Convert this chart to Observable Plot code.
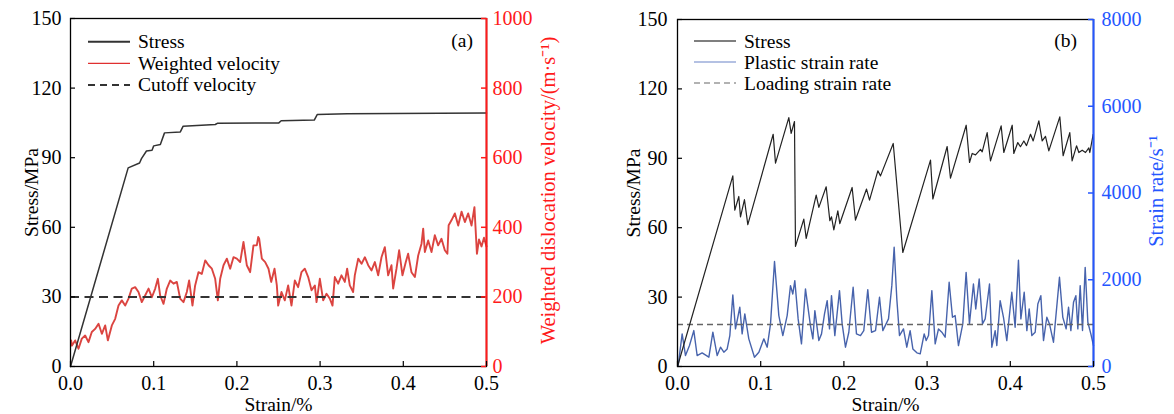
<!DOCTYPE html>
<html><head><meta charset="utf-8">
<script src="https://cdn.jsdelivr.net/npm/d3@7"></script>
<script src="https://cdn.jsdelivr.net/npm/@observablehq/plot@0.6"></script>
<style>
body{margin:0;background:#fff;}
#wrap{position:relative;width:1174px;height:414px;overflow:hidden;font-family:"Liberation Serif",serif;}
#wrap svg{position:absolute;top:0;}
</style></head><body><div id="wrap"></div>
<script>
// ---------- tick labels ----------
const strainTicks = [0, 0.1, 0.2, 0.3, 0.4, 0.5];
const stressTicks = [0, 30, 60, 90, 120, 150];
const velocityTicks = [0, 200, 400, 600, 800, 1000];
const rateTicks = [0, 2000, 4000, 6000, 8000];

// ---------- panel (a) ----------
const stressA_strain = [0, 0.0693, 0.083, 0.0853, 0.0913, 0.098, 0.100, 0.108, 0.113, 0.132, 0.1354, 0.174, 0.177, 0.2504, 0.2532, 0.293, 0.2965, 0.3326, 0.5];
const stressA_value  = [0, 85.6, 87.7, 89.6, 92.9, 93.2, 95.1, 95.7, 100.7, 101.1, 103.6, 104.3, 104.9, 105.0, 105.9, 106.2, 108.6, 108.9, 109.3];

const velA_strain = [0.0008,0.0016,0.0056,0.0096,0.0136,0.0176,0.0216,0.0256,0.0296,0.0337,0.0377,0.0417,0.0449,0.0497,0.0537,0.0577,0.0617,0.0657,0.0697,0.0737,0.0777,0.0817,0.0857,0.0897,0.0938,0.0978,0.1018,0.105,0.1078,0.1118,0.1158,0.1198,0.1238,0.1278,0.1318,0.1358,0.1398,0.1426,0.1466,0.1498,0.1538,0.1578,0.1619,0.1659,0.1699,0.1739,0.1771,0.1799,0.1839,0.1879,0.1919,0.1959,0.1999,0.2039,0.2079,0.2119,0.2159,0.2199,0.2239,0.2256,0.2268,0.2300,0.2340,0.2380,0.2412,0.2452,0.2480,0.2496,0.2536,0.2576,0.2616,0.2656,0.2696,0.2736,0.2776,0.2816,0.2857,0.2897,0.2937,0.2957,0.2997,0.3037,0.3077,0.3117,0.3149,0.3177,0.3217,0.3257,0.3297,0.3325,0.3357,0.3397,0.3417,0.3458,0.3498,0.3538,0.3578,0.3618,0.3658,0.3698,0.3738,0.3778,0.3818,0.3858,0.3878,0.3918,0.3950,0.3990,0.4030,0.4058,0.4098,0.4139,0.4179,0.4219,0.4239,0.4259,0.4299,0.4339,0.4379,0.4419,0.4459,0.4499,0.4530,0.4545,0.4579,0.4620,0.4660,0.4700,0.4740,0.4780,0.4820,0.4855,0.4885,0.4910,0.4940,0.4970,0.5];
const velA_value = [75,60,75,51,80,89,70,99,108,123,94,118,75,118,137,175,190,175,195,224,228,214,185,204,224,199,224,252,204,180,224,247,238,243,195,185,214,247,175,233,271,266,305,291,281,252,190,252,291,310,281,314,310,300,358,291,271,348,348,372,367,310,300,281,243,281,233,175,214,190,233,175,247,228,271,281,257,219,233,185,252,190,209,195,175,257,238,262,243,281,233,214,262,310,295,314,291,276,300,262,314,343,262,291,224,281,334,262,300,324,271,257,319,353,396,329,362,329,377,348,367,334,324,406,420,440,405,445,415,440,405,458,324,365,345,370,345];
const cutoffVelocity = 200;

// ---------- panel (b) ----------
const stressB_strain = [0,0.0665,0.0689,0.0737,0.0757,0.0805,0.0845,0.115,0.1178,0.1338,0.1366,0.1406,0.1418,0.1518,0.1547,0.1667,0.1699,0.1787,0.1831,0.1851,0.1879,0.1927,0.1951,0.2099,0.2139,0.2272,0.2308,0.2408,0.244,0.2593,0.2708,0.3041,0.3069,0.3241,0.3281,0.347,0.351,0.3542,0.3582,0.3642,0.3662,0.3722,0.3762,0.389,0.3922,0.4023,0.4042,0.409,0.4122,0.4163,0.4195,0.4243,0.4275,0.4343,0.4383,0.4423,0.4463,0.4595,0.4635,0.4715,0.4743,0.4796,0.4824,0.4864,0.4904,0.4944,0.4956,0.4996];
const stressB_value  = [0,82.4,67.6,73.5,64.7,72.1,61.3,100.4,87.9,107.6,100.8,105.9,51.9,63.7,55.4,74.1,68.8,77.7,63.0,64.7,59.1,67.3,61.8,77.4,63.3,76.7,71.9,84.6,82.4,96.4,49.3,89.2,72.4,95.1,81.4,104.3,88.2,92.1,91.5,93.9,92.8,101.1,88.9,104.0,92.5,104.3,92.1,96.8,95.0,97.5,95.5,100.4,97.5,106.2,97.5,99.5,93.2,107.9,91.1,101.1,88.9,95.4,92.5,93.5,92.5,94.5,92.5,100.4];

const rateB_strain = [0.0008,0.0056,0.0096,0.0144,0.0196,0.0236,0.0296,0.0377,0.0425,0.0477,0.0517,0.0557,0.0597,0.0629,0.0665,0.0697,0.0749,0.0777,0.0809,0.0857,0.0925,0.0978,0.1038,0.1078,0.1118,0.1166,0.1218,0.1266,0.1318,0.1358,0.1386,0.141,0.145,0.149,0.1538,0.1598,0.1627,0.1651,0.1699,0.1731,0.1767,0.1799,0.1827,0.1851,0.1891,0.1947,0.1979,0.2019,0.2059,0.2111,0.2151,0.2199,0.2239,0.2287,0.2332,0.2380,0.2428,0.2468,0.2536,0.2576,0.2604,0.2636,0.2668,0.2716,0.2756,0.2796,0.2829,0.2877,0.2917,0.2965,0.2989,0.3017,0.3057,0.3097,0.3137,0.3177,0.3217,0.3265,0.3305,0.3337,0.3377,0.3429,0.3469,0.3509,0.3557,0.3585,0.3626,0.3666,0.3698,0.3750,0.3778,0.3818,0.3838,0.3878,0.3918,0.3958,0.4018,0.4058,0.4098,0.4127,0.4167,0.4199,0.4227,0.4259,0.4299,0.4331,0.4367,0.4399,0.4439,0.4471,0.4519,0.4591,0.4631,0.4671,0.4700,0.4728,0.4760,0.4788,0.4812,0.4840,0.4868,0.4900,0.4932,0.4968,0.5];
const rateB_value = [23,752,253,483,828,253,315,215,790,253,445,330,406,713,1649,867,1366,752,1212,637,215,330,637,445,982,2420,1174,713,1174,1864,1672,1979,1097,522,1788,944,637,1289,598,752,1212,1519,867,1634,713,1749,982,445,790,1826,752,713,828,1772,790,828,1596,828,1097,1864,2750,1558,713,867,445,828,406,315,292,752,598,713,1749,522,867,790,675,1941,1135,1174,483,982,2171,982,1902,1327,2018,982,1097,1902,445,828,483,1519,1135,598,1711,905,2450,1097,1711,828,1327,713,790,1442,1634,598,1135,982,560,2056,1135,867,1366,828,1480,1634,867,1864,828,2286,1020,752,483];
const loadingRate = 970;

// ---------- styling ----------
const FONT = "Liberation Serif, Times New Roman, serif";
const RED = "#ff1a1a";
const BLUE = "#2456ff";
const H = 414;

const zip = (xs, ys, key) => xs.map((x, i) => ({strain: x, [key]: ys[i]}));

function legendMark(items, x0, y0, step, tag, tagX, tagY) {
  return () => {
    const g = d3.create("svg:g").attr("font-family", FONT);
    items.forEach((it, i) => {
      const y = y0 + i * step;
      g.append("line").attr("x1", x0).attr("x2", x0 + 42).attr("y1", y).attr("y2", y)
        .attr("stroke", it.stroke).attr("stroke-width", it.width)
        .attr("stroke-dasharray", it.dash || null);
      g.append("text").attr("x", x0 + 50).attr("y", y + 6.5).attr("font-size", 19.5)
        .attr("text-anchor", "start").attr("fill", "#000").text(it.label);
    });
    g.append("text").attr("x", tagX).attr("y", tagY).attr("text-anchor", "end")
      .attr("font-size", 19.5).attr("fill", "#000").text(tag);
    return g.node();
  };
}

function panel(o) {
  const pw = o.width - o.ml - o.mr;
  const ph = H - o.mt - o.mb;
  const k = 150 / o.rightMax;
  return Plot.plot({
    width: o.width, height: H,
    marginTop: o.mt, marginRight: o.mr, marginBottom: o.mb, marginLeft: o.ml,
    x: {domain: [0, 0.5], label: null},
    y: {domain: [0, 150], label: null},
    style: {fontFamily: FONT, fontSize: "20px", background: "transparent", overflow: "visible"},
    marks: [
      Plot.line(o.series2, {x: "strain", y: d => d.v * k, stroke: o.s2color, strokeWidth: o.s2width, strokeOpacity: 0.95}),
      Plot.ruleY([o.dashValue * k], {stroke: o.dashColor, strokeWidth: o.dashWidth, strokeDasharray: o.dash}),
      Plot.line(o.stress, {x: "strain", y: "stress", stroke: o.stressColor, strokeWidth: o.stressWidth}),
      Plot.frame({stroke: "#000", strokeWidth: 1.3}),
      Plot.ruleX([0.5], {stroke: o.axisColor, strokeWidth: 2}),
      Plot.ruleY(stressTicks, {insetRight: pw - 5, stroke: "#000", strokeWidth: 1.2}),
      Plot.ruleX(strainTicks, {insetTop: ph - 5, stroke: "#000", strokeWidth: 1.2}),
      Plot.ruleY(o.rightTicks.map(v => v * k), {insetLeft: pw - 5, stroke: o.axisColor, strokeWidth: 1.5}),
      Plot.axisX(strainTicks, {tickSize: 0, tickPadding: 9, fontSize: 20, fill: "#000", label: null}),
      Plot.axisY(stressTicks, {tickSize: 0, tickPadding: o.lpad, fontSize: 20, fill: "#000", label: null}),
      Plot.axisY(o.rightTicks.map(v => v * k), {anchor: "right", tickSize: 0, tickPadding: o.rpad, fontSize: 20,
        fill: o.axisColor, label: null, tickFormat: d => String(Math.round(d / k))}),
      Plot.text(["Stress/MPa"], {frameAnchor: "left", dx: o.ltdx, rotate: -90, textAnchor: "middle", lineAnchor: "middle", fontSize: 19.5, fill: "#000"}),
      Plot.text([o.rightTitle], {frameAnchor: "right", dx: o.rtdx, dy: -2, rotate: -90, textAnchor: "middle", lineAnchor: "middle", fontSize: 20.5, fill: o.axisColor}),
      Plot.text(["Strain/%"], {frameAnchor: "bottom", dy: 31, lineAnchor: "top", textAnchor: "middle", fontSize: 19.5, fill: "#000"}),
      o.legend
    ]
  });
}

const a = panel({
  width: 590, ml: 70, mr: 104, mt: 18, mb: 48,
  stress: zip(stressA_strain, stressA_value, "stress"),
  series2: zip(velA_strain, velA_value, "v"),
  rightMax: 1000, rightTicks: velocityTicks,
  s2color: "#d93a36", s2width: 1.9,
  dashValue: cutoffVelocity, dashColor: "#333", dashWidth: 2, dash: "9,5.5",
  stressColor: "#333", stressWidth: 1.5,
  axisColor: RED, lpad: 9, rpad: 6, ltdx: -39, rtdx: 62,
  rightTitle: "Weighted dislocation velocity/(m·s⁻¹)",
  legend: legendMark([
    {label: "Stress", stroke: "#333", width: 2},
    {label: "Weighted velocity", stroke: "#e03030", width: 1.2},
    {label: "Cutoff velocity", stroke: "#333", width: 2, dash: "7,5"}
  ], 88, 41.7, 21.6, "(a)", 473, 47)
});

const b = panel({
  width: 584, ml: 87, mr: 81, mt: 19, mb: 48,
  stress: zip(stressB_strain, stressB_value, "stress"),
  series2: zip(rateB_strain, rateB_value, "v"),
  rightMax: 8000, rightTicks: rateTicks,
  s2color: "#3d5ba8", s2width: 1.4,
  dashValue: loadingRate, dashColor: "#666", dashWidth: 1.5, dash: "6,4",
  stressColor: "#222", stressWidth: 1.2,
  axisColor: BLUE, lpad: 10, rpad: 8, ltdx: -44, rtdx: 63,
  rightTitle: "Strain rate/s⁻¹",
  legend: legendMark([
    {label: "Stress", stroke: "#555", width: 1.5},
    {label: "Plastic strain rate", stroke: "#6b84c8", width: 1.2},
    {label: "Loading strain rate", stroke: "#999", width: 1.5, dash: "6,4"}
  ], 104, 41, 21, "(b)", 487, 47)
});

a.style.left = "0px";
b.style.left = "590px";
document.getElementById("wrap").append(a, b);
</script>
</body></html>
